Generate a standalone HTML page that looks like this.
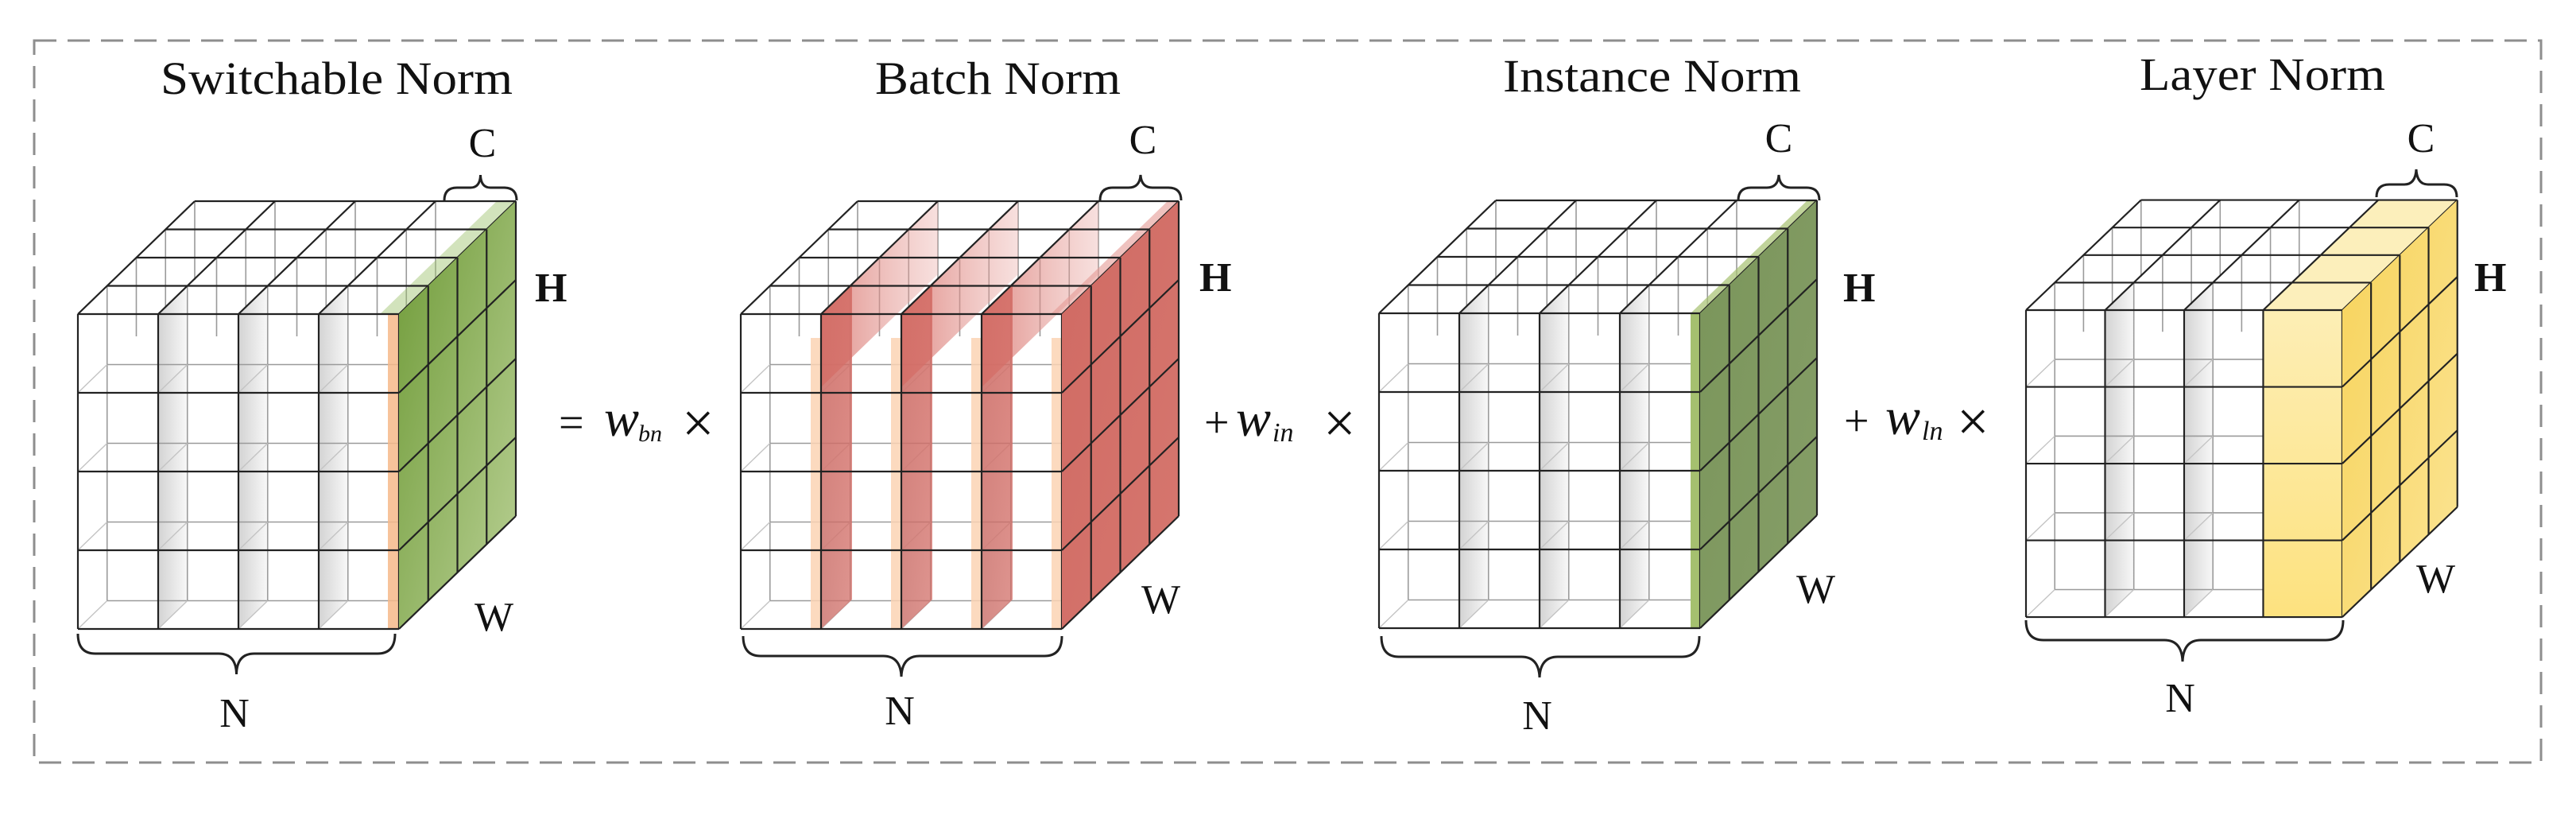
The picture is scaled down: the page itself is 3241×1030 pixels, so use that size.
<!DOCTYPE html>
<html><head><meta charset="utf-8"><style>
html,body{margin:0;padding:0;background:#fff;}
svg{display:block;}
text{font-family:"Liberation Serif",serif;fill:#111;}
</style></head><body>
<svg width="3241" height="1030" viewBox="0 0 3241 1030" xmlns="http://www.w3.org/2000/svg">
<defs>
<linearGradient id="wall" x1="0" y1="0" x2="1" y2="0"><stop offset="0" stop-color="#c8c8c8"/><stop offset="1" stop-color="#f6f6f6"/></linearGradient>
<linearGradient id="gSN" x1="0" y1="0" x2="1" y2="1"><stop offset="0" stop-color="#6f9b38"/><stop offset="1" stop-color="#b9d094"/></linearGradient>
<linearGradient id="gIN" x1="0" y1="0" x2="1" y2="1"><stop offset="0" stop-color="#7a955a"/><stop offset="1" stop-color="#869e68"/></linearGradient>
<linearGradient id="gBN" x1="0" y1="0" x2="1" y2="1"><stop offset="0" stop-color="#d06a63"/><stop offset="1" stop-color="#d6776f"/></linearGradient>
<linearGradient id="gLN" x1="0" y1="0" x2="1" y2="1"><stop offset="0" stop-color="#f7d35a"/><stop offset="1" stop-color="#fbe494"/></linearGradient>
<linearGradient id="gLNf" x1="0" y1="0" x2="0" y2="1"><stop offset="0" stop-color="#fdeeb5"/><stop offset="1" stop-color="#fde27f"/></linearGradient>
<linearGradient id="redwall" x1="0" y1="0" x2="0" y2="1"><stop offset="0" stop-color="#d36b64" stop-opacity=".85"/><stop offset="1" stop-color="#d36b64" stop-opacity=".7"/></linearGradient>
<linearGradient id="redband" x1="0" y1="0" x2="1" y2="0"><stop offset="0" stop-color="#d8736c" stop-opacity=".8"/><stop offset="1" stop-color="#e9a6a1" stop-opacity=".35"/></linearGradient>

<g id="top"><polygon points="0,0 404,0 551,-142 147,-142" fill="#fff"/></g>
<g id="inner">
 <polygon points="101,0 137.75,-35.5 137.75,360.5 101,396" fill="url(#wall)" opacity=".8"/>
 <polygon points="202,0 238.75,-35.5 238.75,360.5 202,396" fill="url(#wall)" opacity=".8"/>
 <polygon points="303,0 339.75,-35.5 339.75,360.5 303,396" fill="url(#wall)" opacity=".8"/>
 <path d="M36.75,-35.5v396 M137.75,-35.5v396 M238.75,-35.5v396 M339.75,-35.5v396 M36.75,63.5h367 M36.75,162.5h367 M36.75,261.5h367 M36.75,360.5h367 M73.5,-71v99 M174.5,-71v99 M275.5,-71v99 M376.5,-71v99 M110.25,-106.5v99 M211.25,-106.5v99 M312.25,-106.5v99 M413.25,-106.5v99 M147,-142v99 M248,-142v99 M349,-142v99 M450,-142v99" stroke="#9a9a9a" stroke-width="1.6" fill="none"/>
 <path d="M0,99l36.75,-35.5 M101,99l36.75,-35.5 M202,99l36.75,-35.5 M303,99l36.75,-35.5 M0,198l36.75,-35.5 M101,198l36.75,-35.5 M202,198l36.75,-35.5 M303,198l36.75,-35.5 M0,297l36.75,-35.5 M101,297l36.75,-35.5 M202,297l36.75,-35.5 M303,297l36.75,-35.5 M0,396l36.75,-35.5 M101,396l36.75,-35.5 M202,396l36.75,-35.5 M303,396l36.75,-35.5" stroke="#c4c4c4" stroke-width="1.4" fill="none"/>
</g>
<g id="lines"><path d="M0,0v396 M101,0v396 M202,0v396 M303,0v396 M404,0v396 M0,0h404 M0,99h404 M0,198h404 M0,297h404 M0,396h404 M0,0l147,-142 M101,0l147,-142 M202,0l147,-142 M303,0l147,-142 M404,0l147,-142 M36.75,-35.5h404 M73.5,-71h404 M110.25,-106.5h404 M147,-142h404" stroke="#222" stroke-width="2.2" fill="none"/></g>
<g id="sidegrid"><path d="M440.75,-35.5v396 M477.5,-71v396 M514.25,-106.5v396 M551,-142v396 M404,99l147,-142 M404,198l147,-142 M404,297l147,-142 M404,396l147,-142" stroke="#222" stroke-width="2.2" fill="none"/></g>
<path id="side" d="M404,0 L551,-142 L551,254 L404,396 Z"/>
</defs>

<rect x="43" y="51" width="3154" height="908" fill="none" stroke="#8e8e8e" stroke-width="3" stroke-dasharray="28 14"/>

<!-- Cube 1: Switchable Norm -->
<g transform="translate(98,395)">
 <use href="#top"/><use href="#inner"/>
 <rect x="390" y="0" width="14" height="396" fill="#f6b88a" opacity=".85"/>
 <polygon points="380,0 404,0 551,-142 527,-142" fill="#9cc06a" opacity=".45"/>
 <use href="#lines"/>
 <use href="#side" fill="url(#gSN)"/>
 <use href="#sidegrid"/>
</g>

<!-- Cube 2: Batch Norm -->
<g transform="translate(932,395)">
 <use href="#top"/><use href="#inner"/>
 <polygon points="101,0 248,-142 248,-50 101,92" fill="url(#redband)"/>
 <polygon points="202,0 349,-142 349,-50 202,92" fill="url(#redband)"/>
 <polygon points="303,0 450,-142 450,-50 303,92" fill="url(#redband)"/>
 <polygon points="101,0 140,-37 140,359 101,396" fill="url(#redwall)"/>
 <polygon points="202,0 241,-37 241,359 202,396" fill="url(#redwall)"/>
 <polygon points="303,0 342,-37 342,359 303,396" fill="url(#redwall)"/>
 <rect x="88" y="30" width="13" height="366" fill="#fbd4b4" opacity=".85"/>
 <rect x="189" y="30" width="13" height="366" fill="#fbd4b4" opacity=".85"/>
 <rect x="290" y="30" width="13" height="366" fill="#fbd4b4" opacity=".85"/>
 <rect x="391" y="30" width="13" height="366" fill="#fbd4b4" opacity=".85"/>
 <polygon points="390,0 404,0 551,-142 537,-142" fill="#e59a94" opacity=".6"/>
 <use href="#lines"/>
 <use href="#side" fill="url(#gBN)"/>
 <use href="#sidegrid"/>
</g>

<!-- Cube 3: Instance Norm -->
<g transform="translate(1735,394)">
 <use href="#top"/><use href="#inner"/>
 <rect x="392" y="0" width="12" height="396" fill="#a5c06f"/>
 <polygon points="392,0 404,0 551,-142 539,-142" fill="#a5c06f" opacity=".7"/>
 <use href="#lines"/>
 <use href="#side" fill="url(#gIN)"/>
 <use href="#sidegrid"/>
</g>

<!-- Cube 4: Layer Norm -->
<g transform="translate(2549,390) scale(0.985,0.975)">
 <use href="#top"/><use href="#inner"/>
 <polygon points="303,0 404,0 551,-142 450,-142" fill="#fcefbb"/>
 <rect x="303" y="0" width="101" height="396" fill="url(#gLNf)"/>
 <use href="#lines"/>
 <use href="#side" fill="url(#gLN)"/>
 <use href="#sidegrid"/>
</g>

<!-- braces -->
<g fill="none" stroke="#222" stroke-width="3">
 <path d="M559,252 Q559,236 575,236 L592,236 Q604,236 604.5,220 Q605,236 617,236 L634,236 Q650,236 650,252"/>
 <path d="M98,797 Q98,822 120,822 L275,822 Q297,822 297.5,848 Q298,822 320,822 L475,822 Q497,822 497,797"/>
 <path d="M1384,252 Q1384,236 1400,236 L1420,236 Q1434,236 1435,220 Q1436,236 1450,236 L1470,236 Q1486,236 1486,252"/>
 <path d="M935,800 Q935,825 957,825 L1111,825 Q1133,825 1134,851 Q1135,825 1157,825 L1314,825 Q1336,825 1336,800"/>
 <path d="M2187,252 Q2187,236 2203,236 L2223,236 Q2237,236 2238,220 Q2239,236 2253,236 L2273,236 Q2289,236 2289,252"/>
 <path d="M1738,800 Q1738,826 1760,826 L1914,826 Q1936,826 1937,852 Q1938,826 1960,826 L2116,826 Q2138,826 2138,800"/>
 <path d="M2990,248 Q2990,232 3006,232 L3025,232 Q3039,232 3040,213 Q3041,232 3055,232 L3075,232 Q3091,232 3091,248"/>
 <path d="M2549,780 Q2549,805 2571,805 L2723,805 Q2745,805 2746,832 Q2747,805 2769,805 L2926,805 Q2948,805 2948,780"/>
</g>

<!-- titles -->
<g font-size="58">
 <text x="202" y="118" textLength="443" lengthAdjust="spacingAndGlyphs">Switchable Norm</text>
 <text x="1101" y="118" textLength="309" lengthAdjust="spacingAndGlyphs">Batch Norm</text>
 <text x="1891" y="115" textLength="375" lengthAdjust="spacingAndGlyphs">Instance Norm</text>
 <text x="2692" y="113" textLength="309" lengthAdjust="spacingAndGlyphs">Layer Norm</text>
</g>

<!-- axis labels -->
<g font-size="52">
 <text x="607" y="197" text-anchor="middle">C</text>
 <text x="673" y="379" font-weight="bold">H</text>
 <text x="597" y="793">W</text>
 <text x="295" y="914" text-anchor="middle">N</text>

 <text x="1438" y="193" text-anchor="middle">C</text>
 <text x="1509" y="366" font-weight="bold">H</text>
 <text x="1436" y="771">W</text>
 <text x="1132" y="911" text-anchor="middle">N</text>

 <text x="2238" y="191" text-anchor="middle">C</text>
 <text x="2319" y="379" font-weight="bold">H</text>
 <text x="2260" y="758">W</text>
 <text x="1934" y="917" text-anchor="middle">N</text>

 <text x="3046" y="191" text-anchor="middle">C</text>
 <text x="3113" y="366" font-weight="bold">H</text>
 <text x="3040" y="745">W</text>
 <text x="2743" y="895" text-anchor="middle">N</text>
</g>

<!-- operators -->
<g>
 <text x="703" y="550" font-size="56">=</text>
 <text x="760" y="548" font-size="66" font-style="italic">w</text>
 <text x="803" y="555" font-size="30" font-style="italic" fill="#2a3f8f">bn</text>
 <text x="858" y="556" font-size="72">×</text>

 <text x="1515" y="550" font-size="56">+</text>
 <text x="1555" y="548" font-size="66" font-style="italic">w</text>
 <text x="1601" y="555" font-size="34" font-style="italic" fill="#2a3f8f">in</text>
 <text x="1665" y="556" font-size="72">×</text>

 <text x="2320" y="548" font-size="56">+</text>
 <text x="2372" y="546" font-size="66" font-style="italic">w</text>
 <text x="2418" y="553" font-size="34" font-style="italic" fill="#2a3f8f">ln</text>
 <text x="2462" y="554" font-size="72">×</text>
</g>
</svg>
</body></html>
